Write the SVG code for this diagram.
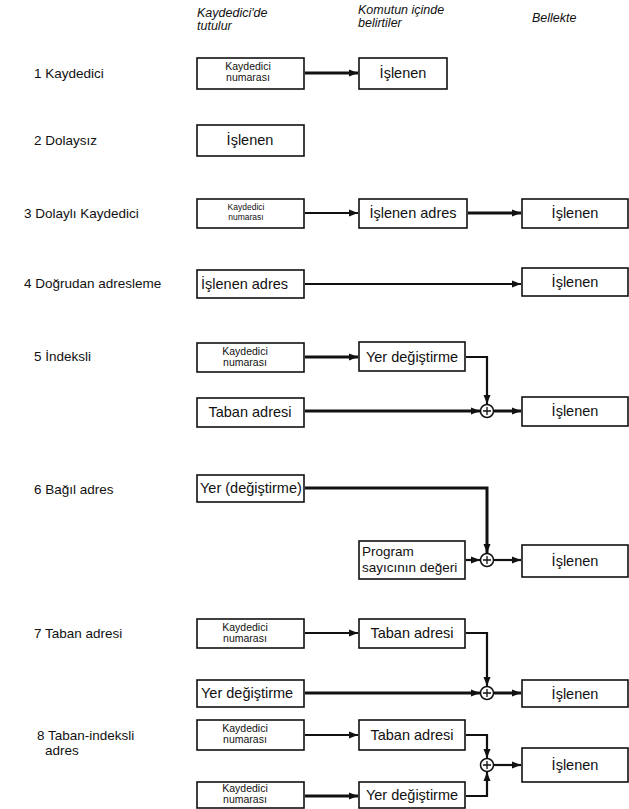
<svg xmlns="http://www.w3.org/2000/svg" width="629" height="809" viewBox="0 0 629 809">
<style>
.bg{fill:#fff}
.box{fill:#fff;stroke:#111;stroke-width:1.6}
.hd{font-family:"Liberation Sans",Arial,sans-serif;font-style:italic;font-size:12.5px;fill:#111}
.lbl{font-family:"Liberation Sans",Arial,sans-serif;font-size:13.5px;fill:#111}
.bt{font-family:"Liberation Sans",Arial,sans-serif;font-size:14.5px;fill:#111;text-anchor:middle}
.bl{font-family:"Liberation Sans",Arial,sans-serif;font-size:14.5px;fill:#111}
.pg{font-family:"Liberation Sans",Arial,sans-serif;font-size:13.5px;fill:#111}
.sm{font-family:"Liberation Sans",Arial,sans-serif;font-size:10.5px;fill:#111;text-anchor:middle}
.xs{font-family:"Liberation Sans",Arial,sans-serif;font-size:8.5px;fill:#111;text-anchor:middle}
.c{fill:none;stroke:#111;stroke-width:2.2}
.ct{fill:none;stroke:#111;stroke-width:3}
.sum{fill:#fff;stroke:#111;stroke-width:1.5}
.plus{stroke:#111;stroke-width:1.3}
</style>
<defs>
<marker id="ah" markerUnits="userSpaceOnUse" markerWidth="9" markerHeight="8" refX="9" refY="4" orient="auto">
<path d="M0,0.5 L9,4 L0,7.5 z" fill="#111"/>
</marker>
</defs>
<rect class="bg" x="0" y="0" width="629" height="809"/>

<g id="headers">
<text class="hd" x="197" y="17">Kaydedici'de<tspan x="197" dy="13">tutulur</tspan></text>
<text class="hd" x="358" y="14">Komutun içinde<tspan x="358" dy="13">belirtiler</tspan></text>
<text class="hd" x="532" y="22">Bellekte</text>
</g>

<g id="labels">
<text class="lbl" x="34" y="78">1 Kaydedici</text>
<text class="lbl" x="34" y="145">2 Dolaysız</text>
<text class="lbl" x="24" y="218">3 Dolaylı Kaydedici</text>
<text class="lbl" x="24" y="288">4 Doğrudan adresleme</text>
<text class="lbl" x="34" y="361">5 İndeksli</text>
<text class="lbl" x="34" y="494">6 Bağıl adres</text>
<text class="lbl" x="34" y="638">7 Taban adresi</text>
<text class="lbl" x="37" y="740">8 Taban-indeksli<tspan x="45" dy="15">adres</tspan></text>
</g>

<g id="connectors">
<line class="ct" x1="305" y1="73" x2="358" y2="73" marker-end="url(#ah)"/>
<line class="c" x1="305" y1="213" x2="358" y2="213" marker-end="url(#ah)"/>
<line class="ct" x1="468" y1="213" x2="521" y2="213" marker-end="url(#ah)"/>
<line class="c" x1="305" y1="284" x2="521" y2="284" marker-end="url(#ah)"/>
<line class="ct" x1="305" y1="357" x2="358" y2="357" marker-end="url(#ah)"/>
<path class="c" d="M466,357 H487 V404" marker-end="url(#ah)"/>
<line class="ct" x1="305" y1="411" x2="480" y2="411" marker-end="url(#ah)"/>
<line class="ct" x1="494" y1="411" x2="521" y2="411" marker-end="url(#ah)"/>
<path class="ct" d="M305,488 H487 V553" marker-end="url(#ah)"/>
<line class="c" x1="466" y1="560" x2="480" y2="560" marker-end="url(#ah)"/>
<line class="c" x1="494" y1="560" x2="521" y2="560" marker-end="url(#ah)"/>
<line class="c" x1="305" y1="633" x2="358" y2="633" marker-end="url(#ah)"/>
<path class="c" d="M466,633 H487 V686" marker-end="url(#ah)"/>
<line class="ct" x1="305" y1="693" x2="480" y2="693" marker-end="url(#ah)"/>
<line class="ct" x1="494" y1="693" x2="521" y2="693" marker-end="url(#ah)"/>
<line class="c" x1="305" y1="735" x2="358" y2="735" marker-end="url(#ah)"/>
<path class="c" d="M466,735 H487 V758" marker-end="url(#ah)"/>
<line class="ct" x1="305" y1="796" x2="358" y2="796" marker-end="url(#ah)"/>
<path class="c" d="M466,796 H487 V772" marker-end="url(#ah)"/>
<line class="c" x1="494" y1="765" x2="521" y2="765" marker-end="url(#ah)"/>
</g>

<g id="r1-kaydedici"><rect class="box" x="197" y="58" width="107" height="31"/><text class="sm" x="248" y="70">Kaydedici<tspan x="248" dy="11">numarası</tspan></text></g>
<g id="r1-islenen"><rect class="box" x="359" y="58" width="88" height="31"/><text class="bt" x="403" y="78">İşlenen</text></g>

<g id="r2-islenen"><rect class="box" x="197" y="125" width="107" height="31"/><text class="bt" x="250" y="145">İşlenen</text></g>

<g id="r3-kaydedici"><rect class="box" x="197" y="199" width="107" height="29"/><text class="xs" x="246" y="210">Kaydedici<tspan x="246" dy="10">numarası</tspan></text></g>
<g id="r3-adres"><rect class="box" x="359" y="199" width="108" height="29"/><text class="bt" x="413" y="218">İşlenen adres</text></g>
<g id="r3-islenen"><rect class="box" x="522" y="199" width="106" height="29"/><text class="bt" x="575" y="218">İşlenen</text></g>

<g id="r4-adres"><rect class="box" x="197" y="270" width="107" height="28"/><text class="bl" x="201" y="289">İşlenen adres</text></g>
<g id="r4-islenen"><rect class="box" x="522" y="268" width="106" height="28"/><text class="bt" x="575" y="287">İşlenen</text></g>

<g id="r5-kaydedici"><rect class="box" x="197" y="343" width="107" height="29"/><text class="sm" x="245" y="355">Kaydedici<tspan x="245" dy="11">numarası</tspan></text></g>
<g id="r5-yer"><rect class="box" x="359" y="342" width="106" height="29"/><text class="bt" x="412" y="362">Yer değiştirme</text></g>
<g id="r5-taban"><rect class="box" x="197" y="398" width="107" height="29"/><text class="bt" x="250" y="417">Taban adresi</text></g>
<g id="r5-sum"><circle class="sum" cx="487" cy="411" r="6.5"/><path class="plus" d="M483,411 H491 M487,407 V415"/></g>
<g id="r5-islenen"><rect class="box" x="522" y="397" width="106" height="29"/><text class="bt" x="575" y="416">İşlenen</text></g>

<g id="r6-yer"><rect class="box" x="197" y="475" width="107" height="27"/><text class="bl" x="200" y="493">Yer (değiştirme)</text></g>
<g id="r6-program"><rect class="box" x="359" y="541" width="106" height="38"/><text class="pg" x="362" y="556">Program<tspan x="362" dy="16">sayıcının değeri</tspan></text></g>
<g id="r6-sum"><circle class="sum" cx="487" cy="560" r="6.5"/><path class="plus" d="M483,560 H491 M487,556 V564"/></g>
<g id="r6-islenen"><rect class="box" x="522" y="545" width="106" height="32"/><text class="bt" x="575" y="566">İşlenen</text></g>

<g id="r7-kaydedici"><rect class="box" x="197" y="619" width="107" height="29"/><text class="sm" x="245" y="631">Kaydedici<tspan x="245" dy="11">numarası</tspan></text></g>
<g id="r7-taban"><rect class="box" x="359" y="619" width="106" height="29"/><text class="bt" x="412" y="638">Taban adresi</text></g>
<g id="r7-yer"><rect class="box" x="197" y="680" width="107" height="27"/><text class="bl" x="201" y="698">Yer değiştirme</text></g>
<g id="r7-sum"><circle class="sum" cx="487" cy="693" r="6.5"/><path class="plus" d="M483,693 H491 M487,689 V697"/></g>
<g id="r7-islenen"><rect class="box" x="522" y="680" width="106" height="27"/><text class="bt" x="575" y="699">İşlenen</text></g>

<g id="r8-kaydedici1"><rect class="box" x="197" y="720" width="107" height="30"/><text class="sm" x="245" y="732">Kaydedici<tspan x="245" dy="11">numarası</tspan></text></g>
<g id="r8-taban"><rect class="box" x="359" y="720" width="106" height="30"/><text class="bt" x="412" y="740">Taban adresi</text></g>
<g id="r8-kaydedici2"><rect class="box" x="197" y="782" width="107" height="26"/><text class="sm" x="245" y="792">Kaydedici<tspan x="245" dy="11">numarası</tspan></text></g>
<g id="r8-yer"><rect class="box" x="359" y="782" width="106" height="26"/><text class="bt" x="412" y="800">Yer değiştirme</text></g>
<g id="r8-sum"><circle class="sum" cx="487" cy="765" r="6.5"/><path class="plus" d="M483,765 H491 M487,761 V769"/></g>
<g id="r8-islenen"><rect class="box" x="522" y="748" width="106" height="34"/><text class="bt" x="575" y="770">İşlenen</text></g>
</svg>
